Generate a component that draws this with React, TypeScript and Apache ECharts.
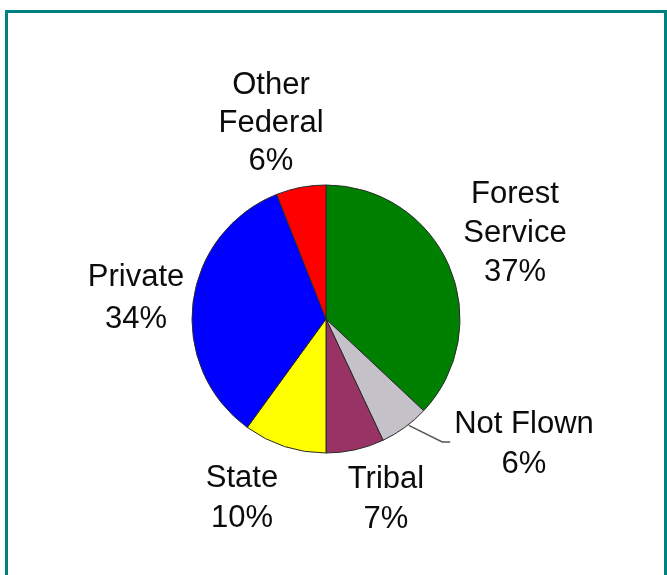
import React, { useEffect, useRef } from "react";
import * as echarts from "echarts";

const categories = ["Forest Service", "Not Flown", "Tribal", "State", "Private", "Other Federal"];
const values = [37, 6, 7, 10, 34, 6];
const colors = ["#008000", "#C4C2C8", "#993366", "#FFFF00", "#0000FF", "#FF0000"];
const wrapped = ["Forest Service", "Other Federal"];
// label block centres (px) in the 667x575 frame
const labelPos: [number, number][] = [
  [515, 231],
  [524, 442],
  [386, 497],
  [242, 496],
  [136, 296],
  [271, 121],
];
const labelLineHeights = [39, 40, 40, 40, 42, 38];

export default function App() {
  const ref = useRef<HTMLDivElement>(null);
  useEffect(() => {
    if (!ref.current) return;
    const chart = echarts.init(ref.current, null, { renderer: "svg" });
    chart.setOption({
      animation: false,
      backgroundColor: "transparent",
      series: [
        {
          type: "pie",
          center: [326, 319],
          radius: 134,
          startAngle: 90,
          clockwise: true,
          avoidLabelOverlap: false,
          itemStyle: { borderColor: "#2a2a2a", borderWidth: 1 },
          label: {
            show: true,
            position: "outside",
            fontFamily: "Liberation Sans, Arial, sans-serif",
            fontSize: 31,
            color: "#0c0c0c",
            align: "center",
            formatter: (p: any) => {
              const n = wrapped.includes(p.name) ? p.name.replace(" ", "\n") : p.name;
              return `${n}\n${Math.round(p.percent)}%`;
            },
          },
          labelLine: { show: false },
          labelLayout: (params: any) => {
            const i = params.dataIndex;
            const [cx, cy] = labelPos[i];
            const res: any = { x: cx, y: cy, align: "center", verticalAlign: "middle" };
            if (categories[i] === "Not Flown" && params.labelLinePoints) {
              const p0 = params.labelLinePoints[0];
              const left = cx - params.labelRect.width / 2;
              res.labelLinePoints = [[p0[0] + 4, p0[1] - 2], [left - 12, cy], [left - 4, cy]];
            }
            return res;
          },
          data: categories.map((name, i) => ({
            name,
            value: values[i],
            itemStyle: { color: colors[i] },
            label: { lineHeight: labelLineHeights[i] },
            labelLine:
              name === "Not Flown"
                ? { show: true, length: 20, length2: 10, lineStyle: { color: "#555", width: 1.5 } }
                : { show: false },
          })),
        },
      ],
    });
    return () => chart.dispose();
  }, []);
  return (
    <>
      <div
        style={{
          position: "fixed",
          left: 5,
          top: 10,
          width: 662,
          height: 620,
          border: "3px solid #008080",
          boxSizing: "border-box",
        }}
      />
      <div
        ref={ref}
        style={{ position: "fixed", left: 0, top: 0, width: 667, height: 575 }}
      />
    </>
  );
}
